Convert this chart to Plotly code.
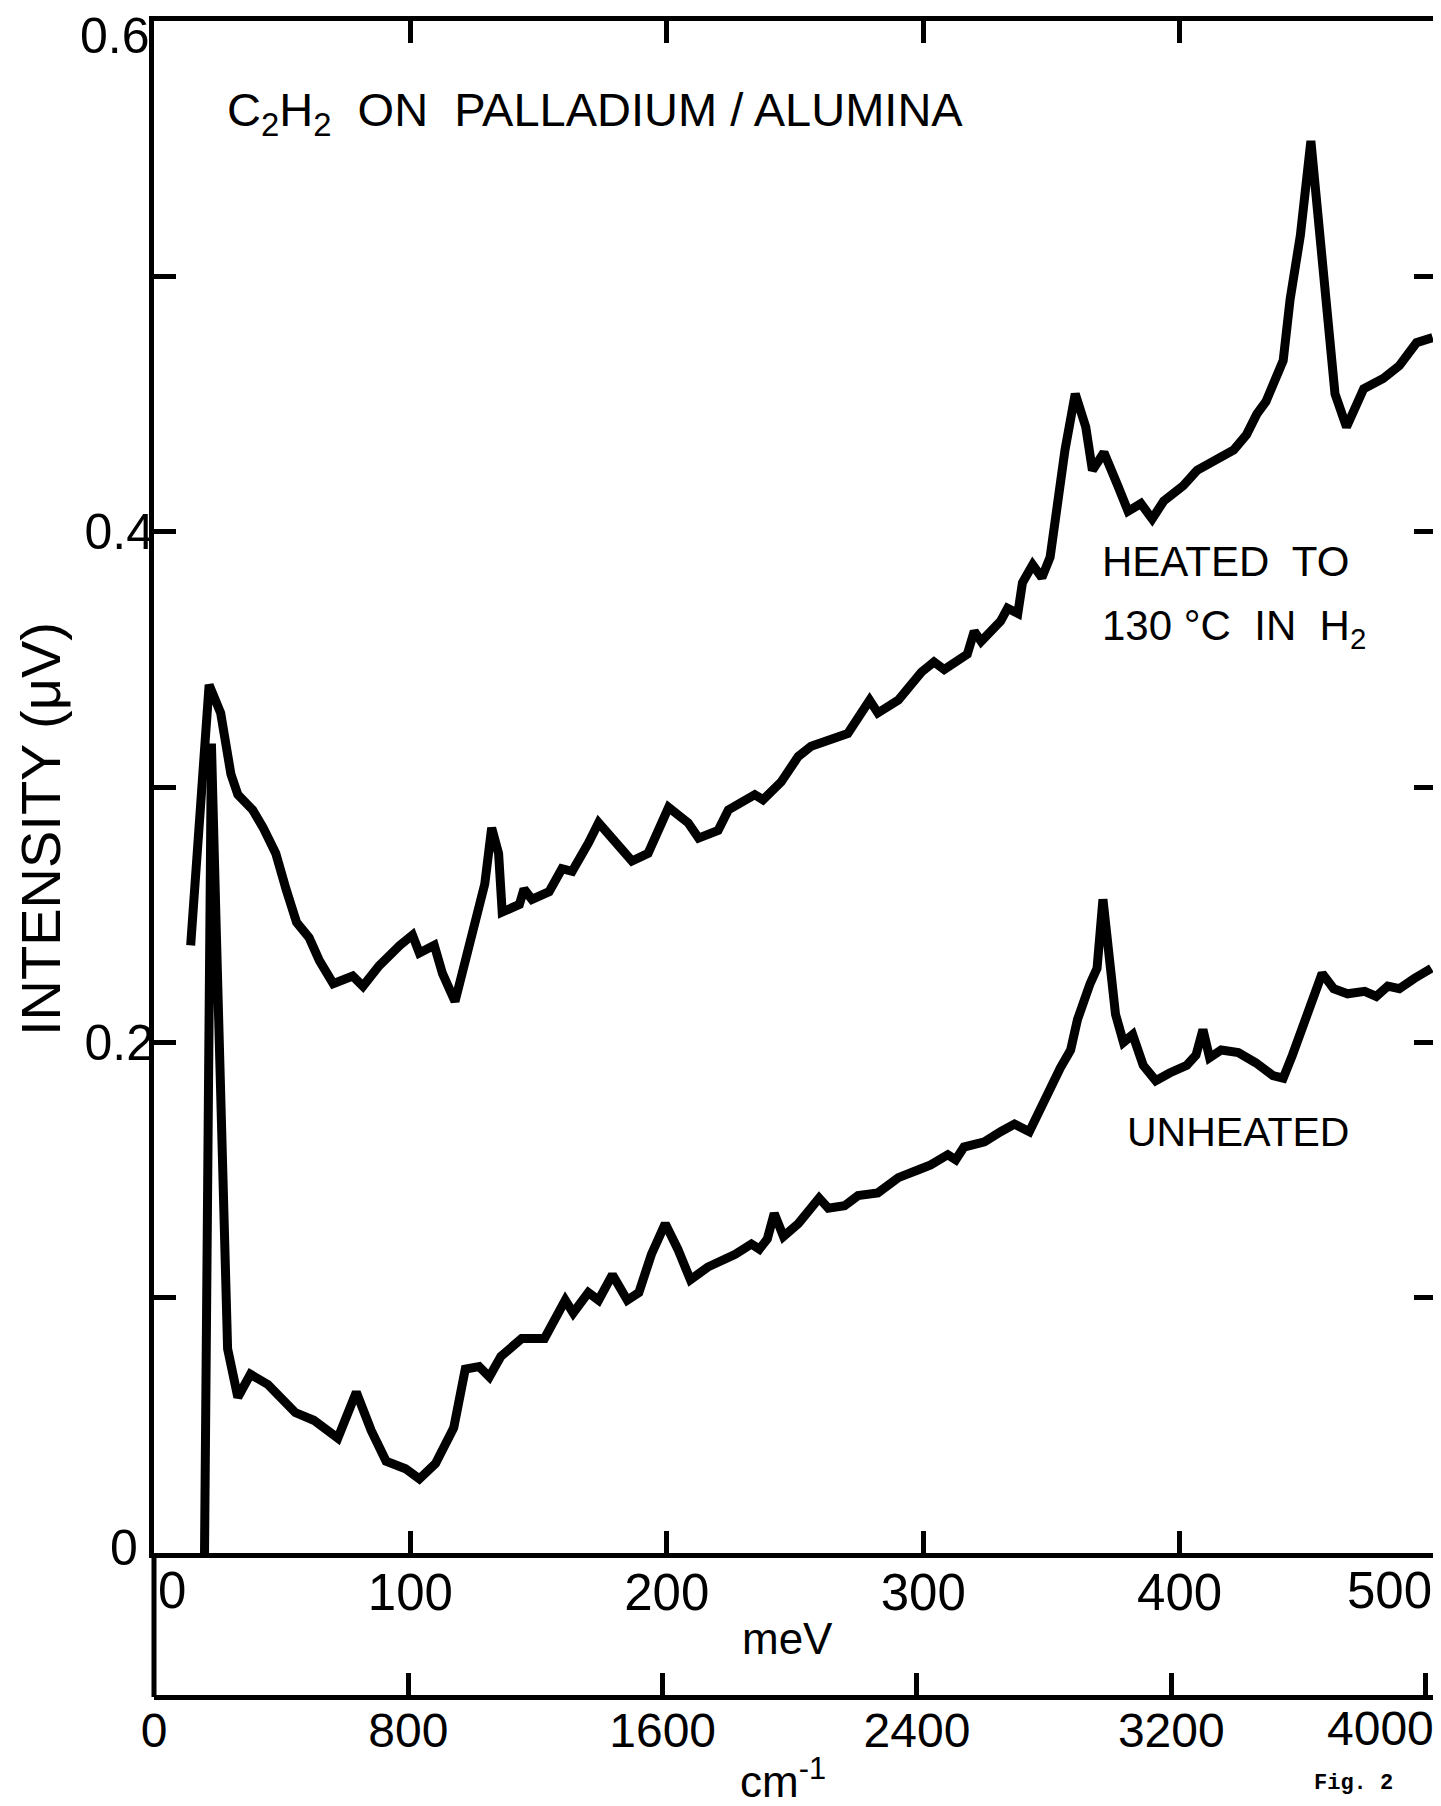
import plotly.graph_objects as go

# ---- data (meV, intensity in microvolts) ----
heated_mev = [14.3, 21.5, 26.0, 27.8, 30.0, 32.7, 38.5, 42.6, 47.5, 51.5, 55.6, 60.5, 64.5, 69.9,
              77.5, 81.5, 87.8, 95.9, 100.8, 103.5, 109.3, 112.5, 117.4, 129.0, 131.7, 134.4, 135.8,
              142.5, 144.3, 147.4, 154.1, 159.1, 163.1, 169.4, 173.4, 186.4, 192.7, 200.7, 208.3,
              212.4, 220.0, 224.0, 234.3, 237.5, 244.6, 251.3, 256.3, 270.6, 274.6, 279.1, 282.3,
              290.3, 299.3, 304.2, 308.2, 317.2, 319.9, 322.6, 330.2, 332.9, 336.9, 338.7, 342.7,
              346.3, 349.5, 352.6, 355.3, 359.3, 363.4, 366.0, 370.5, 375.9, 379.9, 384.9, 389.3,
              393.8, 401.4, 406.8, 414.4, 421.1, 426.1, 430.1, 433.7, 437.7, 440.4, 443.1, 447.1,
              451.2, 457.4, 460.6, 465.1, 471.8, 479.4, 485.7, 492.4, 498.7]
heated_int = [0.238, 0.340, 0.329, 0.316, 0.305, 0.297, 0.291, 0.284, 0.274, 0.260, 0.247, 0.241,
              0.232, 0.223, 0.226, 0.222, 0.230, 0.238, 0.242, 0.235, 0.238, 0.227, 0.216, 0.262,
              0.284, 0.274, 0.251, 0.254, 0.260, 0.256, 0.259, 0.268, 0.267, 0.278, 0.286, 0.271,
              0.274, 0.292, 0.286, 0.280, 0.283, 0.291, 0.297, 0.295, 0.302, 0.312, 0.316, 0.321,
              0.327, 0.334, 0.329, 0.334, 0.345, 0.349, 0.346, 0.352, 0.361, 0.357, 0.365, 0.370,
              0.368, 0.380, 0.387, 0.382, 0.390, 0.412, 0.432, 0.454, 0.441, 0.424, 0.431, 0.418,
              0.408, 0.411, 0.405, 0.412, 0.418, 0.424, 0.428, 0.432, 0.438, 0.446, 0.451, 0.462,
              0.467, 0.491, 0.516, 0.553, 0.491, 0.454, 0.441, 0.456, 0.460, 0.465, 0.474, 0.476]

unheated_mev = [19.7, 22.4, 24.2, 28.7, 32.7, 37.6, 44.4, 55.1, 62.3, 71.7, 78.9, 84.7, 90.5, 98.1,
                103.5, 109.8, 116.9, 121.4, 126.8, 130.8, 135.3, 143.4, 152.3, 160.4, 163.5, 169.4,
                173.4, 178.8, 184.6, 189.1, 194.0, 199.4, 204.3, 209.2, 216.0, 226.7, 233.0, 236.1,
                239.2, 241.9, 245.5, 251.3, 259.4, 263.0, 269.3, 274.6, 282.3, 290.3, 297.9, 302.9,
                309.6, 312.7, 315.9, 323.9, 330.2, 335.6, 341.4, 345.9, 349.5, 353.5, 357.5, 360.2,
                365.1, 367.8, 370.1, 372.8, 375.0, 378.1, 381.7, 385.8, 390.7, 396.1, 402.8, 406.4,
                409.1, 411.7, 416.2, 422.9, 429.7, 436.4, 440.4, 444.0, 449.8, 455.6, 460.1, 465.5,
                472.2, 476.7, 481.2, 485.7, 491.5, 498.2]
unheated_int = [0.000, 0.317, 0.247, 0.080, 0.061, 0.070, 0.066, 0.055, 0.052, 0.045, 0.063, 0.048,
                0.036, 0.033, 0.029, 0.035, 0.049, 0.072, 0.073, 0.069, 0.077, 0.084, 0.084, 0.099,
                0.094, 0.102, 0.099, 0.109, 0.099, 0.102, 0.117, 0.129, 0.119, 0.107, 0.112, 0.117,
                0.121, 0.119, 0.123, 0.133, 0.124, 0.129, 0.139, 0.135, 0.136, 0.140, 0.141, 0.147,
                0.150, 0.152, 0.156, 0.154, 0.159, 0.161, 0.165, 0.168, 0.165, 0.174, 0.183, 0.190,
                0.197, 0.209, 0.223, 0.229, 0.256, 0.233, 0.211, 0.200, 0.203, 0.191, 0.185, 0.188,
                0.191, 0.195, 0.205, 0.194, 0.197, 0.196, 0.192, 0.187, 0.186, 0.195, 0.211, 0.227,
                0.221, 0.219, 0.220, 0.218, 0.222, 0.221, 0.225, 0.229]

mev_ticks = [0, 100, 200, 300, 400, 500]
mev_ticktext = ["", "100", "200", "300", "400", ""]         # "0" and "500" drawn as edge labels
cm_ticks = [0, 800, 1600, 2400, 3200, 4000]
cm_ticktext = ["0", "800", "1600", "2400", "3200", ""]      # "4000" drawn as an edge label
int_ticks = [0, 0.1, 0.2, 0.3, 0.4, 0.5, 0.6]
int_ticktext = ["", "", "0.2", "", "0.4", "", ""]           # "0" and "0.6" drawn as edge labels
MEV_TO_CM = 8.06554

# page offset (browser body margin) and figure size
OFF = 8
W, H = 1441 - OFF, 1806 - OFF
FONT = "Liberation Sans"
INK = "black"


def px(X):
    return (X - OFF) / W


def py(Y):
    return 1 - (Y - OFF) / H


x0, x1 = px(154), px(1436)
y0, y1 = py(1553), py(21)
cm_pos = py(1697)

fig = go.Figure()
fig.add_trace(go.Scatter(x=heated_mev, y=heated_int, mode="lines",
                         line=dict(color=INK, width=9),
                         showlegend=False, hoverinfo="skip"))
fig.add_trace(go.Scatter(x=unheated_mev, y=unheated_int, mode="lines",
                         line=dict(color=INK, width=9),
                         showlegend=False, hoverinfo="skip"))
# carrier trace for the cm^-1 axis
fig.add_trace(go.Scatter(x=[0, 500 * MEV_TO_CM], y=[None, None], xaxis="x2", mode="lines",
                         showlegend=False, hoverinfo="skip"))

axis_common = dict(showgrid=False, zeroline=False, showline=True, linecolor=INK, linewidth=5,
                   ticks="inside", ticklen=22, tickwidth=5, tickcolor=INK, automargin=False)

fig.update_layout(
    width=W, height=H,
    margin=dict(l=0, r=0, t=0, b=0, autoexpand=False),
    paper_bgcolor="white", plot_bgcolor="white",
    font=dict(family=FONT, color=INK),
    xaxis=dict(domain=[x0, x1], range=[0, 500], tickvals=mev_ticks, ticktext=mev_ticktext,
               mirror="ticks", tickfont=dict(size=51, family=FONT), ticklabelstandoff=-9,
               **axis_common),
    yaxis=dict(domain=[y0, y1], range=[0, 0.6], tickvals=int_ticks, ticktext=int_ticktext,
               mirror="ticks", tickfont=dict(size=50, family=FONT), ticklabelstandoff=-15,
               **axis_common),
    xaxis2=dict(overlaying="x", anchor="free", position=cm_pos, side="bottom",
                range=[0, 500 * MEV_TO_CM], tickvals=cm_ticks, ticktext=cm_ticktext,
                tickfont=dict(size=48, family=FONT), ticklabelstandoff=-11, **axis_common),
)

# left connector between the two energy scales
fig.add_shape(type="line", xref="paper", yref="paper", x0=x0, x1=x0, y0=cm_pos, y1=y0,
              line=dict(color=INK, width=5))


def ann(text, x, y, size, xanchor="center", family=FONT, textangle=0):
    fig.add_annotation(text=text, x=px(x), y=py(y), xref="paper", yref="paper",
                       showarrow=False, xanchor=xanchor, yanchor="middle",
                       font=dict(size=size, family=family, color=INK), textangle=textangle)


ann("C<sub>2</sub>H<sub>2</sub>  ON  PALLADIUM / ALUMINA", 225, 113, 47, xanchor="left")
ann("HEATED  TO", 1100, 561, 42, xanchor="left")
ann("130 °C  IN  H<sub>2</sub>", 1100, 628, 42, xanchor="left")
ann("UNHEATED", 1125, 1132, 41, xanchor="left")
ann("INTENSITY (μV)", 40, 829, 56, textangle=-90)
ann("meV", 787, 1638, 44)
ann("cm<sup>-1</sup>", 783, 1778, 44)
ann("<b>Fig. 2</b>", 1353, 1783, 22, family="Liberation Mono")
# edge tick labels, placed as in the original lettering
ann("0.6", 152, 36, 50, xanchor="right")
ann(str(int_ticks[0]), 140, 1548, 50, xanchor="right")
ann(str(mev_ticks[0]), 172, 1590, 51)
ann(str(mev_ticks[-1]), 1434, 1590, 51, xanchor="right")
ann(str(cm_ticks[-1]), 1436, 1728, 48, xanchor="right")

fig.write_html("out.html")
